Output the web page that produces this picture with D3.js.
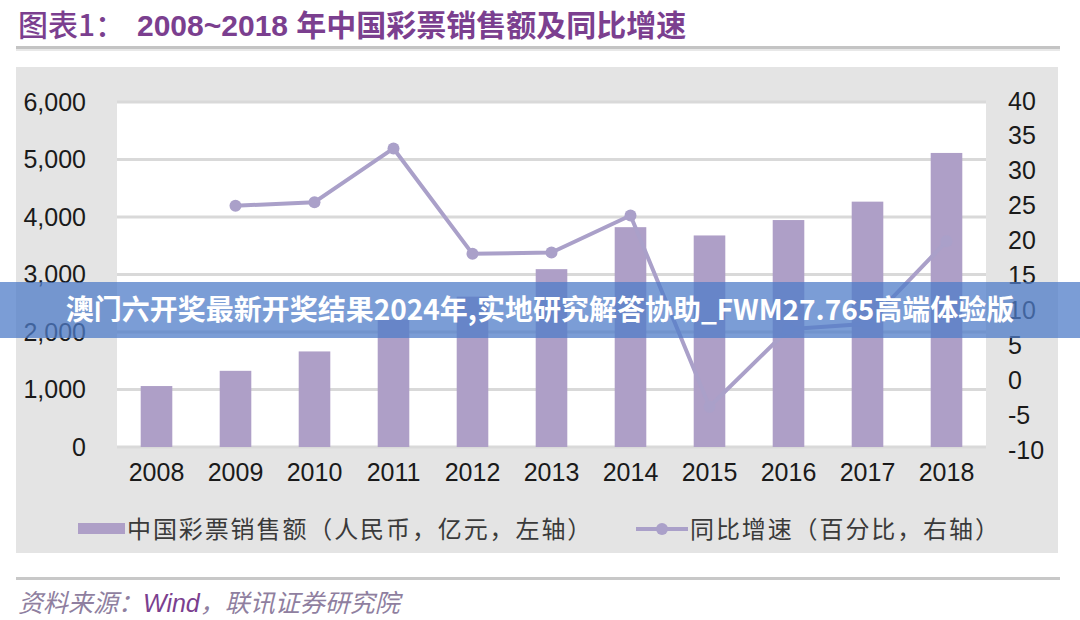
<!DOCTYPE html>
<html><head><meta charset="utf-8">
<script src="https://cdn.jsdelivr.net/npm/d3@7"></script>
<style>
body{margin:0;background:#fff;}
svg{display:block;}
</style></head>
<body>
<svg id="c" width="1080" height="620"></svg>
<script>
const years = ["2008","2009","2010","2011","2012","2013","2014","2015","2016","2017","2018"];
const sales = [1060, 1325, 1662, 2215, 2615, 3093, 3823, 3679, 3947, 4267, 5114];
const growth = [null, 25.0, 25.5, 33.2, 18.1, 18.3, 23.6, -3.8, 7.3, 8.1, 19.9];
const leftTicks = [0, 1000, 2000, 3000, 4000, 5000, 6000];
const rightTicks = [-10, -5, 0, 5, 10, 15, 20, 25, 30, 35, 40];
const titleA = "图表1：";
const titleB = "2008~2018 年中国彩票销售额及同比增速";
const legendBar = "中国彩票销售额（人民币，亿元，左轴）";
const legendLine = "同比增速（百分比，右轴）";
const banner = "澳门六开奖最新开奖结果2024年,实地研究解答协助_FWM27.765高端体验版";

const svg = d3.select("#c");
const numFont = "'Liberation Sans', Arial, sans-serif";
const cjkFont = "'Noto Sans CJK SC', sans-serif";
const barColor = "#ae9fc7", lineColor = "#aaa0c9", purple = "#7b3f8f";

// title
svg.append("text").attr("x", 18).attr("y", 36).attr("font-family", cjkFont)
  .attr("font-size", 30).attr("font-weight", 500).attr("fill", purple).text(titleA);
svg.append("text").attr("x", 137).attr("y", 36).attr("font-family", "'Liberation Sans', 'Noto Sans CJK SC', sans-serif")
  .attr("font-size", 30).attr("font-weight", 700).attr("fill", purple).text(titleB);
svg.append("rect").attr("x", 16).attr("y", 46).attr("width", 1044).attr("height", 3).attr("fill", "#c4c4c4");
svg.append("rect").attr("x", 16).attr("y", 49).attr("width", 1044).attr("height", 2).attr("fill", "#e8e8e8");

// panel
svg.append("rect").attr("x", 16).attr("y", 67).attr("width", 1042).attr("height", 486).attr("fill", "#e4e4e4");
const L = 117, R = 986, T = 102, B = 447;
svg.append("rect").attr("x", L).attr("y", T).attr("width", R - L).attr("height", B - T).attr("fill", "#fff");

const x = d3.scaleBand().domain(years).range([L, R]).paddingInner(0.6).paddingOuter(0.3);
const yL = d3.scaleLinear().domain([0, 6000]).range([B, T]);
const yR = d3.scaleLinear().domain([-10, 40]).range([450, 101]);

// grid
svg.append("g").selectAll("line").data(leftTicks).join("line")
  .attr("x1", L).attr("x2", R).attr("y1", d => yL(d)).attr("y2", d => yL(d))
  .attr("stroke", "#d9d9d9").attr("stroke-width", 3);

// bars
svg.append("g").selectAll("rect").data(years).join("rect")
  .attr("x", d => x(d)).attr("width", x.bandwidth())
  .attr("y", (d, i) => yL(sales[i])).attr("height", (d, i) => B - yL(sales[i]))
  .attr("fill", barColor);

// line
const pts = years.map((d, i) => ({x: x(d) + x.bandwidth() / 2, v: growth[i]})).filter(p => p.v !== null);
svg.append("path").datum(pts)
  .attr("d", d3.line().x(p => p.x).y(p => yR(p.v)))
  .attr("fill", "none").attr("stroke", lineColor).attr("stroke-width", 4).attr("stroke-linejoin", "round");
svg.append("g").selectAll("circle").data(pts).join("circle")
  .attr("cx", p => p.x).attr("cy", p => yR(p.v)).attr("r", 6).attr("fill", lineColor);

// axes
function styleAxis(g) {
  g.select(".domain").remove();
  g.selectAll(".tick line").remove();
  g.selectAll("text").attr("font-family", numFont).attr("font-size", 25).attr("fill", "#1a1a1a");
}
svg.append("g").attr("transform", `translate(${L},0)`)
  .call(d3.axisLeft(yL).tickValues(leftTicks).tickFormat(d3.format(",")).tickSize(0).tickPadding(31))
  .call(styleAxis);
svg.append("g").attr("transform", `translate(${R},0)`)
  .call(d3.axisRight(yR).tickValues(rightTicks).tickFormat(d => String(d)).tickSize(0).tickPadding(22))
  .call(styleAxis);
svg.append("g").attr("transform", `translate(0,${B})`)
  .call(d3.axisBottom(x).tickSize(0).tickPadding(16))
  .call(styleAxis);

// legend
svg.append("rect").attr("x", 78).attr("y", 523).attr("width", 47).attr("height", 11).attr("fill", barColor);
svg.append("text").attr("x", 127).attr("y", 538).attr("font-family", cjkFont).attr("font-size", 24)
  .attr("letter-spacing", 1.9).attr("fill", "#3a3a3a").text(legendBar);
svg.append("line").attr("x1", 636).attr("x2", 688).attr("y1", 529).attr("y2", 529)
  .attr("stroke", lineColor).attr("stroke-width", 4);
svg.append("circle").attr("cx", 662).attr("cy", 529).attr("r", 6).attr("fill", lineColor);
svg.append("text").attr("x", 690).attr("y", 538).attr("font-family", cjkFont).attr("font-size", 24)
  .attr("letter-spacing", 1.9).attr("fill", "#3a3a3a").text(legendLine);

// separator and source
svg.append("rect").attr("x", 16).attr("y", 577).attr("width", 1044).attr("height", 3).attr("fill", "#c8c8c8");
const src = svg.append("text").attr("x", 18).attr("y", 612).attr("font-family", cjkFont)
  .attr("font-size", 25).attr("font-style", "italic").attr("fill", "#8f7fa0");
src.append("tspan").text("资料来源：");
src.append("tspan").attr("fill", purple).attr("font-family", numFont).text("Wind");
src.append("tspan").text("，联讯证券研究院");

// banner overlay
svg.append("rect").attr("x", 0).attr("y", 282).attr("width", 1080).attr("height", 56)
  .attr("fill", "#4f7cc8").attr("opacity", 0.75);
svg.append("text").attr("x", 540).attr("y", 320).attr("text-anchor", "middle")
  .attr("font-family", cjkFont).attr("font-size", 28).attr("font-weight", 700)
  .attr("fill", "#fff").text(banner);
</script>
</body></html>
